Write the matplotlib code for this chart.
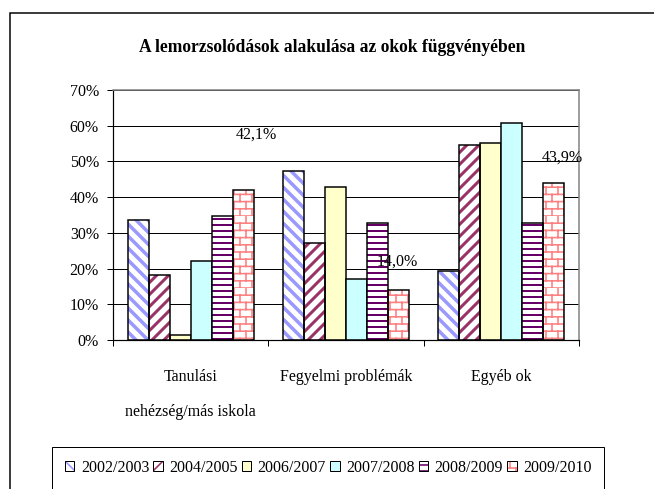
import numpy as np
import matplotlib
matplotlib.use("Agg")
import matplotlib.pyplot as plt
import matplotlib.hatch as mhatch
from matplotlib.path import Path
from matplotlib.patches import Rectangle, Patch

plt.rcParams['font.family'] = ['Liberation Serif', 'DejaVu Serif']

# ---------------- data ----------------
title = "A lemorzsolódások alakulása az okok függvényében"
categories = ["Tanulási\nnehézség/más iskola", "Fegyelmi problémák", "Egyéb ok"]
series_names = ["2002/2003", "2004/2005", "2006/2007", "2007/2008", "2008/2009", "2009/2010"]
v_2002 = [33.5, 47.4, 19.4]
v_2004 = [18.2, 27.2, 54.7]
v_2006 = [1.5, 42.9, 55.3]
v_2007 = [22.2, 17.2, 60.9]
v_2008 = [34.6, 32.9, 32.9]
v_2009 = [42.1, 14.0, 43.9]
values = [v_2002, v_2004, v_2006, v_2007, v_2008, v_2009]
yticks = [0, 10, 20, 30, 40, 50, 60, 70]
ytick_labels = ["0%", "10%", "20%", "30%", "40%", "50%", "60%", "70%"]

# ---------------- custom brick hatch (mapped to '*') ----------------
class BrickHatch(mhatch.HatchPatternBase):
    def __init__(self, hatch, density):
        self.on = hatch.count('*') > 0
        self.rows = 10
        self.cols = 6
        self.num_vertices = (self.rows + self.rows * self.cols) * 2 if self.on else 0

    def set_vertices_and_codes(self, vertices, codes):
        segs = []
        for i in range(self.rows):
            y0 = i / self.rows
            y1 = (i + 1) / self.rows
            segs.append(((0.0, y0), (1.0, y0)))
            shift = 0.5 * (i % 2)
            for j in range(self.cols):
                xx = ((j + shift) / self.cols) % 1.0
                segs.append(((xx, y0), (xx, y1)))
        arr = np.array(segs, dtype=float).reshape(-1, 2)
        vertices[:] = arr
        codes[0::2] = Path.MOVETO
        codes[1::2] = Path.LINETO

for k, t in enumerate(mhatch._hatch_types):
    if t is mhatch.Stars:
        mhatch._hatch_types[k] = BrickHatch

# ---------------- styles ----------------
face_cols = ['white', 'white', '#FFFFCC', '#CCFFFF', 'white', 'white']
hatch_cols = ['#9999FF', '#993366', None, None, '#660066', '#FF8080']
hatches = ['\\\\', '//', None, None, '--', '*']
hatch_lws = [3.5, 3.0, 0, 0, 2.0, 1.6]

W, H = 654, 489
fig = plt.figure(figsize=(W / 72, H / 72), dpi=72)
ax = fig.add_axes([113 / W, 1 - 340 / H, 466 / W, 250 / H])

x = np.arange(len(categories))
bw = 0.135
handles = []
for i, (name, vals) in enumerate(zip(series_names, values)):
    pos = x + (i - 2.5) * bw
    if hatches[i] is None:
        ax.bar(pos, vals, bw, color=face_cols[i], edgecolor='black', linewidth=1.5, zorder=2)
        handles.append(Patch(facecolor=face_cols[i], edgecolor='black', linewidth=1.0))
    else:
        plt.rcParams['hatch.linewidth'] = hatch_lws[i]
        bars = ax.bar(pos, vals, bw, color='white', edgecolor=hatch_cols[i],
                      hatch=hatches[i], linewidth=0, zorder=2)
        for b in bars:
            if hasattr(b, 'set_hatch_linewidth'):
                b.set_hatch_linewidth(hatch_lws[i])
        ax.bar(pos, vals, bw, fill=False, edgecolor='black', linewidth=1.5, zorder=3)
        hp = Patch(facecolor='white', edgecolor=hatch_cols[i], hatch=hatches[i], linewidth=0)
        if hasattr(hp, 'set_hatch_linewidth'):
            hp.set_hatch_linewidth(min(hatch_lws[i], 2.0))
        op = Patch(facecolor='none', edgecolor='black', linewidth=1.0)
        handles.append((hp, op))

# data labels (last series)
label_offsets = [(13, 55), (-1.5, 28), (9, 26)]
for j, v in enumerate(v_2009):
    txt = f"{v:.1f}".replace('.', ',') + "%"
    ax.annotate(txt, xy=(x[j] + 2.5 * bw, v), xytext=label_offsets[j],
                textcoords='offset points', ha='center', va='center', fontsize=16)

ax.set_xlim(-0.5, 2.5)
ax.set_ylim(0, 70)
ax.set_yticks(yticks)
ax.set_yticklabels(ytick_labels, fontsize=16)
ax.tick_params(axis='y', direction='out', length=6, width=1, pad=8)
ax.yaxis.grid(True, color='black', linewidth=1)
ax.set_axisbelow(True)

ax.set_xticks(x)
ax.set_xticklabels(categories, fontsize=16, linespacing=2.6)
ax.tick_params(axis='x', which='major', length=0, pad=29)
ax.set_xticks([-0.5, 0.5, 1.5, 2.5], minor=True)
ax.tick_params(axis='x', which='minor', direction='out', length=6, width=1)

for s in ['top', 'right']:
    ax.spines[s].set_color('#808080')
    ax.spines[s].set_linewidth(1.5)
for s in ['left', 'bottom']:
    ax.spines[s].set_color('black')
    ax.spines[s].set_linewidth(1.2)

fig.text(332 / W, 1 - 47 / H, title, ha='center', va='center',
         fontsize=17.5, fontweight='bold')

leg = fig.legend(handles, series_names, loc='upper left',
                 bbox_to_anchor=(52 / W, 1 - 447 / H), ncol=6, fontsize=16,
                 frameon=True, fancybox=False, framealpha=1, edgecolor='black',
                 borderpad=0.8, handlelength=0.6, handleheight=0.6,
                 handletextpad=0.4, columnspacing=0.25, borderaxespad=0)
leg.get_frame().set_linewidth(1.0)

fig.add_artist(Rectangle((10 / W, -0.2), 1.5, 1.2 - 13 / H, transform=fig.transFigure,
                         fill=False, edgecolor='black', linewidth=1.5))

fig.savefig("out.png", dpi=72)
